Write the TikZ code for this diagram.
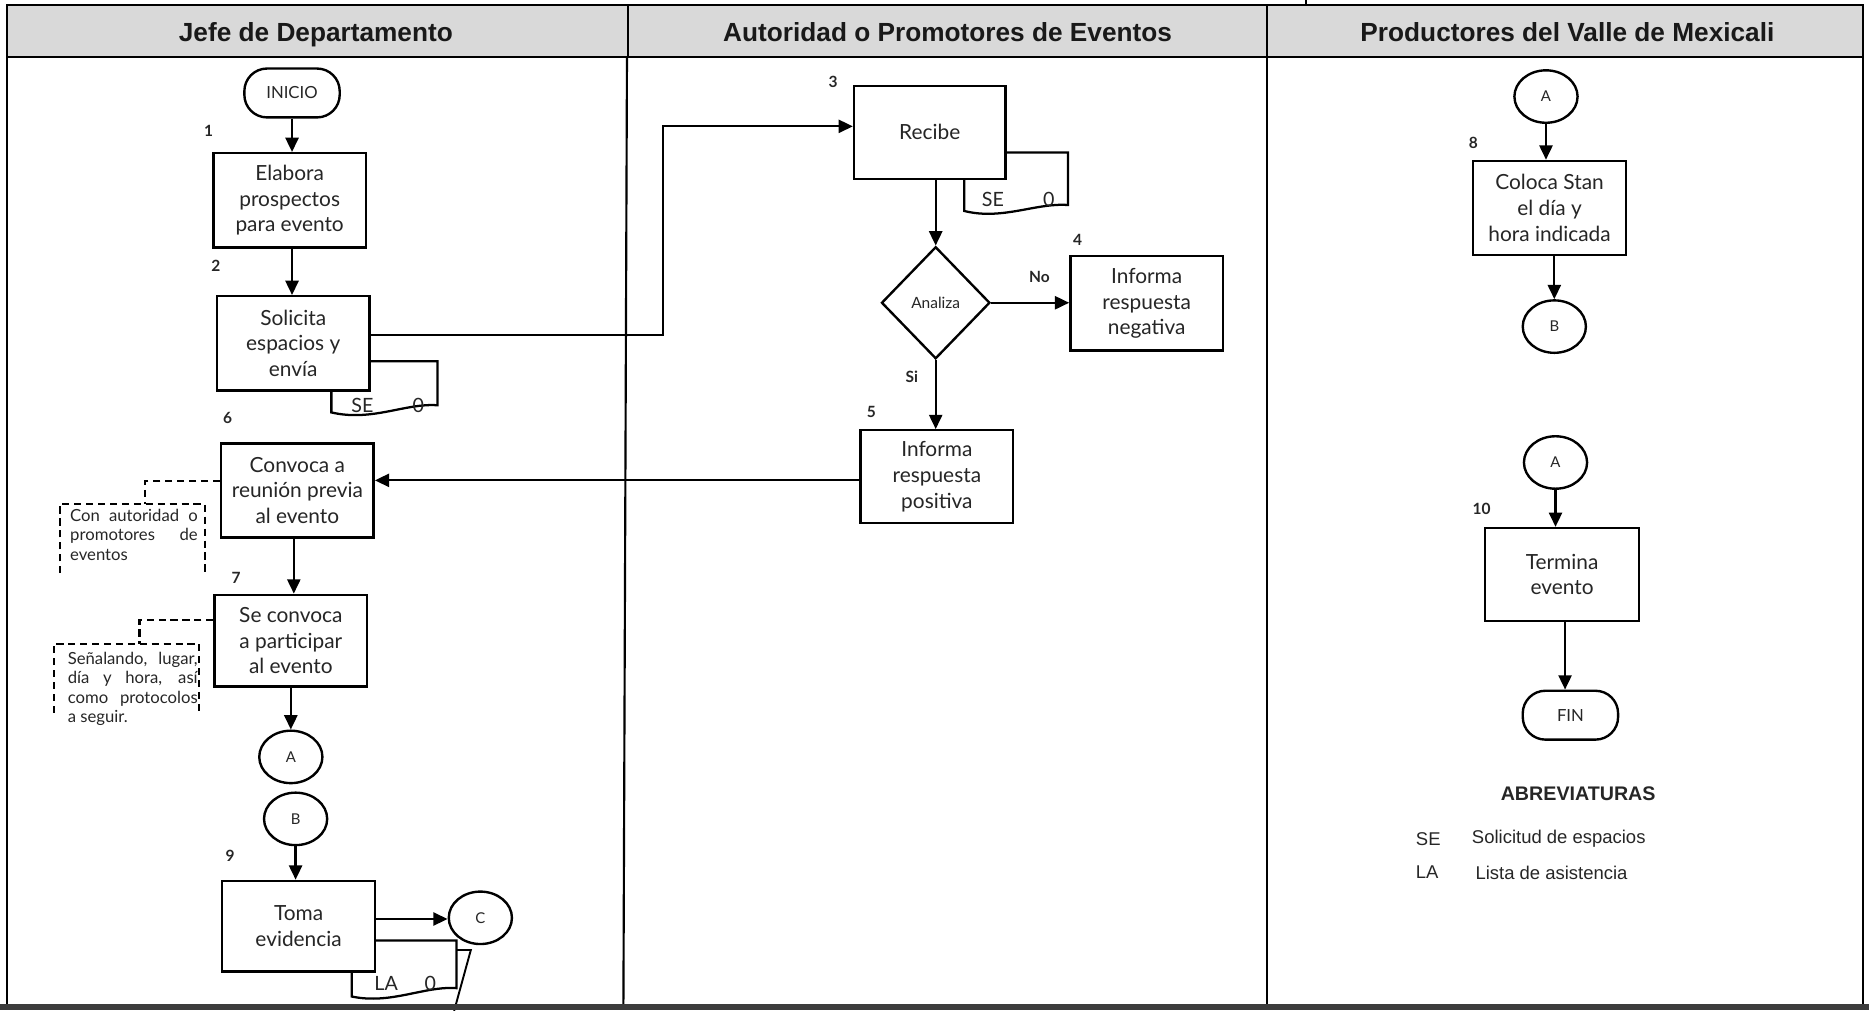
\documentclass[tikz,border=0pt]{standalone}
\usepackage{fontspec}
\setmainfont{Lato}
\newfontfamily\hdrfont{Liberation Sans}
\usetikzlibrary{arrows.meta,shapes.geometric}
\definecolor{hdrgray}{HTML}{D9D9D9}
\definecolor{ink}{HTML}{262626}
\definecolor{rulegray}{HTML}{3C3C3C}

\begin{document}
\begin{tikzpicture}[x=1pt,y=-1pt,line width=1.8pt,
  arr/.style={-{Triangle[length=12pt,width=11pt]}, line width=1.9pt},
  proc/.style={draw, fill=white, line width=2pt, minimum width=128pt, minimum height=79pt,
    align=center, text=ink, font=\fontsize{17.5}{21.5}\selectfont, inner sep=1pt},
  terminal/.style={draw, fill=white, line width=2pt, rounded corners=19pt, minimum width=80pt, minimum height=41pt,
    text=ink, font=\fontsize{14}{16}\selectfont},
  conn/.style={draw, ellipse, fill=white, line width=2pt, minimum width=53pt, minimum height=44pt, inner sep=0pt,
    text=ink, font=\fontsize{12.5}{14}\selectfont},
  decision/.style={draw, diamond, fill=white, line width=2pt, minimum width=91pt, minimum height=94pt, inner sep=0pt,
    text=ink, font=\fontsize{13}{15}\selectfont},
  num/.style={font=\bfseries\fontsize{13}{15}\selectfont, text=ink, inner sep=0pt},
  docshape/.style={draw, fill=white, line width=1.9pt},
  doctext/.style={text=ink, font=\fontsize{16.5}{18}\selectfont, inner sep=0pt},
  lanehead/.style={font=\hdrfont\bfseries\fontsize{22}{26}\selectfont, text=black!90, anchor=base},
  notetext/.style={align=left, text=ink, font=\fontsize{14}{16.3}\selectfont, inner sep=0pt},
  noteframe/.style={minimum width=120pt, minimum height=56pt, inner sep=0pt},
  dashline/.style={dash pattern=on 6pt off 4pt, line width=1.8pt},
  abbr/.style={font=\hdrfont\fontsize{15.5}{18}\selectfont, text=ink, inner sep=0pt, anchor=west},
]
\useasboundingbox (0,0) rectangle (1568,848);

% ---------- lane headers and frame ----------
\fill[hdrgray] (6,4) rectangle (1563,48);
\draw (6,4) rectangle (1563,48);
\draw (527,4) -- (527,48);
\draw (1063,4) -- (1063,48);
\draw (1096,0) -- (1096,4);
\draw (6,48) -- (6,843);
\draw (1563,48) -- (1563,843);
\draw (526,48) -- (523,843);
\draw (1063,48) -- (1063,843);

\node[lanehead] (h1) at (265,35) {Jefe de Departamento};
\node[lanehead] (h2) at (795,35) {Autoridad o Promotores de Eventos};
\node[lanehead] (h3) at (1315,35) {Productores del Valle de Mexicali};

% ---------- documents (behind their boxes) ----------
\draw[docshape] (278,346) -- (278,303) -- (367,303) -- (367,340)
  .. controls (340,338) and (312,354) .. cycle;
\node[doctext] (se1) at (304,340) {SE};
\node[doctext] (z1) at (351,340) {0};

\draw[docshape] (809,177) -- (809,128) -- (896,128) -- (896,172)
  .. controls (869,170) and (841,185) .. cycle;
\node[doctext] (se2) at (833,167) {SE};
\node[doctext] (z2) at (880,167) {0};

\draw[line width=1.6pt] (383,797) -- (395,797) -- (381,848);
\draw[docshape] (295,836) -- (295,789) -- (383,789) -- (383,829)
  .. controls (356,827) and (328,843) .. cycle;
\node[doctext] (la3) at (324,825) {LA};
\node[doctext] (z3) at (361,825) {0};

% ---------- lane 1: Jefe de Departamento ----------
\node[terminal] (inicio) at (245,78) {INICIO};
\node[proc] (elab) at (243,168) {Elabora\\prospectos\\para evento};
\node[proc] (sol) at (246,288) {Solicita\\espacios y\\envía};
\node[proc] (conv) at (249.5,411.5) {Convoca a\\reunión previa\\al evento};
\node[proc, minimum height=77pt] (secon) at (244,537.5) {Se convoca\\a participar\\al evento};
\node[conn] (cA1) at (244,635) {A};
\node[conn] (cB1) at (248,687) {B};
\node[proc, minimum height=76pt] (toma) at (250.5,777) {Toma\\evidencia};
\node[conn] (cC1) at (403,770) {C};

\node[num] at (175,110) {1};
\node[num] at (181,223) {2};
\node[num] at (191,351) {6};
\node[num] at (198,485) {7};
\node[num] at (193,718) {9};

% notes
\node[noteframe] (note1) at (111,452) {};
\draw[dashline] (note1.south west) -- (note1.north west) -- (note1.north east) -- (note1.south east);
\node[notetext, anchor=north west] (note1txt) at (58,426)
  {\makebox[107pt][s]{Con autoridad o}\\\makebox[107pt][s]{promotores de}\\eventos};
\draw[dashline] ([yshift=8pt]conv.west) -| ([xshift=11pt]note1.north);

\node[noteframe] (note2) at (106,569) {};
\draw[dashline] (note2.south west) -- (note2.north west) -- (note2.north east) -- (note2.south east);
\node[notetext, anchor=north west] (note2txt) at (56,546)
  {\makebox[109pt][s]{Señalando, lugar,}\\\makebox[109pt][s]{día y hora, así}\\
   \makebox[109pt][s]{como protocolos}\\a seguir.};
\draw[dashline] ([yshift=17.5pt]secon.west) -| ([xshift=11pt]note2.north);

% ---------- lane 2: Autoridad o Promotores ----------
\node[proc, minimum width=127pt, minimum height=78pt] (recibe) at (780,111) {Recibe};
\node[decision] (dia) at (785,254) {Analiza};
\node[proc] (neg) at (962,254.5) {Informa\\respuesta\\negativa};
\node[proc, minimum height=78pt] (pos) at (786,400) {Informa\\respuesta\\positiva};

\node[num] at (699,69) {3};
\node[num] at (904,201) {4};
\node[num] at (731,346) {5};
\node[num] (lblno) at (872,232) {No};
\node[num] (lblsi) at (765,316) {Si};

% ---------- lane 3: Productores ----------
\node[conn] (cA3) at (1297,81) {A};
\node[proc] (coloca) at (1300,174.5) {Coloca Stan\\el día y\\hora indicada};
\node[conn] (cB3) at (1304,274) {B};
\node[conn] (cA4) at (1305,388) {A};
\node[proc, minimum width=129pt, minimum height=78pt] (term) at (1310.5,482) {Termina\\evento};
\node[terminal] (fin) at (1317.5,600) {FIN};

\node[num] at (1236,120) {8};
\node[num] at (1243,427) {10};

% abbreviations
\node[font=\hdrfont\bfseries\fontsize{16.5}{18}\selectfont, text=ink] (abrev) at (1324,666) {ABREVIATURAS};
\node[abbr] (abSE) at (1187,704) {SE};
\node[abbr] (abSEt) at (1234,704) {Solicitud de espacios};
\node[abbr] (abLA) at (1187,732) {LA};
\node[abbr] (abLAt) at (1237,732) {Lista de asistencia};

% ---------- connectors ----------
\draw[arr] (inicio.south) -- (inicio.south |- elab.north);
\draw[arr] ([xshift=2pt]elab.south) -- ([xshift=2pt]elab.south |- sol.north);
\coordinate (j1) at (556,281);
\draw[arr] ([yshift=7pt]sol.east) -- (j1) |- ([yshift=5pt]recibe.west);
\draw[arr] (dia.north |- recibe.south) -- (dia.north);
\draw[arr] (dia.east) -- (dia.east -| neg.west);
\draw[arr] (dia.south) -- (dia.south |- pos.north);
\draw[arr] ([yshift=-3pt]pos.west) -- ([yshift=-3pt]pos.west -| conv.east);
\draw[arr] ([xshift=-3pt]conv.south) -- ([xshift=-3pt]conv.south |- secon.north);
\draw[arr] (secon.south -| cA1.north) -- (cA1.north);
\draw[arr] (cB1.south) -- (cB1.south |- toma.north);
\draw[arr] ([yshift=6pt]toma.east) -- ([yshift=6pt]toma.east -| cC1.west);
\draw[arr] (cA3.south) -- (cA3.south |- coloca.north);
\draw[arr] (cB3.north |- coloca.south) -- (cB3.north);
\draw[arr] (cA4.south) -- (cA4.south |- term.north);
\draw[arr] ([xshift=2.5pt]term.south) -- ([xshift=2.5pt]term.south |- fin.north);

% bottom rule
\draw[rulegray, line width=5pt] (0,845) -- (1568,845);
\end{tikzpicture}
\end{document}
